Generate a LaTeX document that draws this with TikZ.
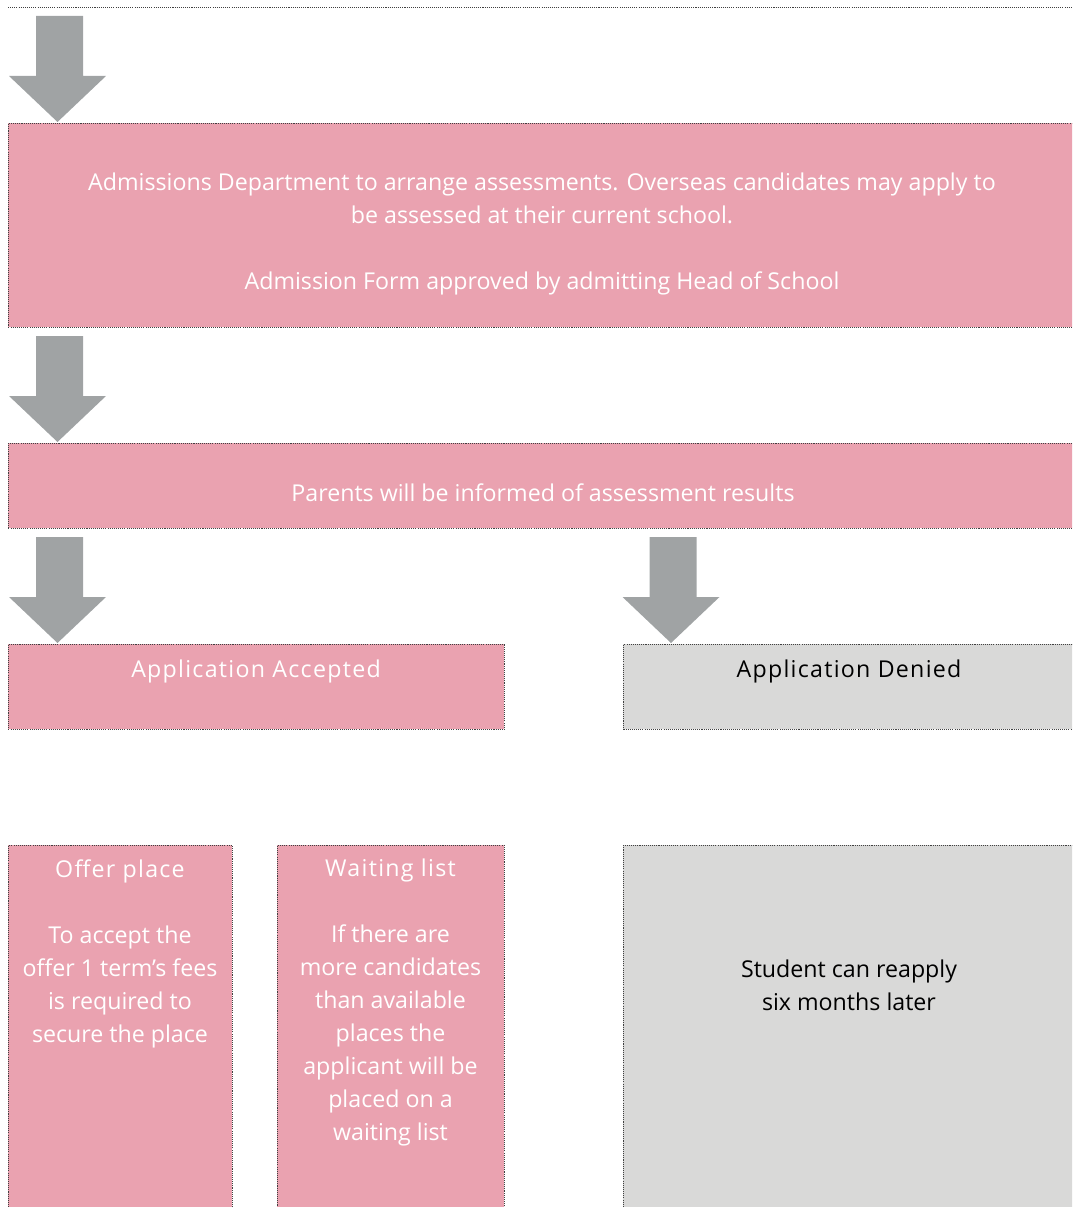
\documentclass[tikz,border=0pt]{standalone}
\usepackage{fontspec}
\setmainfont{Open Sans}
\usetikzlibrary{positioning}
\definecolor{boxpink}{HTML}{EAA2B0}
\definecolor{boxgrey}{HTML}{D9D9D8}
\definecolor{arrowgrey}{HTML}{A0A3A4}
\definecolor{edgegrey}{HTML}{404040}
\newcommand{\boxfont}{\fontsize{13.2pt}{18.8pt}\selectfont}
\newcommand{\spacedfont}{\fontsize{13.2pt}{18.8pt}\selectfont\addfontfeatures{LetterSpace=5.5}}

\begin{document}
\begin{tikzpicture}[x=0.2mm, y=-0.2mm,
  edge/.style={draw=edgegrey, line width=0.5pt, dash pattern=on 0.6pt off 0.6pt},
  pinkbox/.style={edge, fill=boxpink, anchor=north west, inner sep=0pt},
  greybox/.style={pinkbox, fill=boxgrey},
  lighttext/.style={text=white, align=center, font=\boxfont, inner sep=0pt},
  darktext/.style={lighttext, text=black},
  downarrow/.pic={\fill[arrowgrey] (-21.5,-106) -- (25.5,-106) -- (25.5,-46) -- (48.5,-46)
      -- (0,0) -- (-48.5,-46) -- (-21.5,-46) -- cycle;}
]
\useasboundingbox (0,0) rectangle (1072,1207);
\clip (0,0) rectangle (1072,1207);

%\draw[step=100, black!20] (0,0) grid (1072,1207);

% end of the box above
\draw[edge] (8,7) -- (1080,7);

% boxes
\node[pinkbox, minimum width=213.6mm, minimum height=40.8mm] (assess) at (8,123) {};
\node[pinkbox, minimum width=213.6mm, minimum height=17mm] (results) at (8,443) {};
\node[pinkbox, minimum width=99.2mm, minimum height=17mm] (accepted) at (8,644) {};
\node[greybox, minimum width=90.6mm, minimum height=17mm] (denied) at (623,644) {};
\node[pinkbox, minimum width=44.8mm, minimum height=74mm] (offer) at (8,845) {};
\node[pinkbox, minimum width=45.4mm, minimum height=74mm] (waiting) at (277,845) {};
\node[greybox, minimum width=90.6mm, minimum height=74mm] (reapply) at (623,845) {};

% arrows
\pic at (57.5,122) {downarrow};
\pic at (57.5,442) {downarrow};
\pic at (57.5,643) {downarrow};
\pic at (671,643) {downarrow};

% texts
\node[lighttext] (assesstext) at (542,234)
  {Admissions Department to arrange assessments. Overseas candidates may apply to\\
   be assessed at their current school.\\[18.8pt]
   Admission Form approved by admitting Head of School};
\node[lighttext] (resultstext) at (543,493) {Parents will be informed of assessment results};
\node[lighttext, font=\spacedfont] (acceptedtext) at (256,671) {Application Accepted};
\node[darktext, font=\spacedfont] (deniedtext) at (849,671) {Application Denied};
\node[lighttext] (offertext) at (120,953.5)
  {{\spacedfont Offer place}\\[18.8pt]
   To accept the\\ offer 1 term’s fees\\ is required to\\ secure the place};
\node[lighttext] (waitingtext) at (390.5,1002.5)
  {{\spacedfont Waiting list}\\[18.8pt]
   If there are\\ more candidates\\ than available\\ places the\\
   applicant will be\\ placed on a\\ waiting list};
\node[darktext] (reapplytext) at (849,985) {Student can reapply\\ six months later};

\end{tikzpicture}
\end{document}
